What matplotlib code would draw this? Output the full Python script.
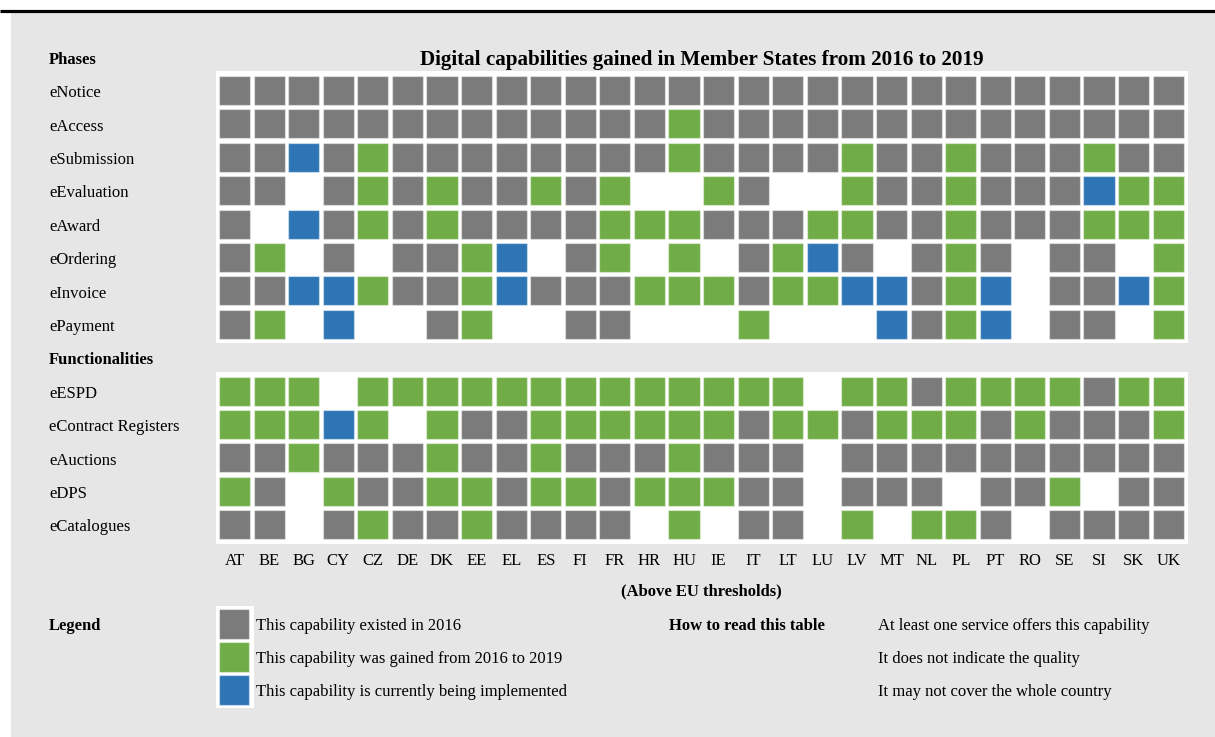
import matplotlib

matplotlib.use("Agg")
import matplotlib.pyplot as plt
from matplotlib.patches import Rectangle
from matplotlib.transforms import blended_transform_factory

countries = ["AT", "BE", "BG", "CY", "CZ", "DE", "DK", "EE", "EL", "ES", "FI", "FR", "HR", "HU",
             "IE", "IT", "LT", "LU", "LV", "MT", "NL", "PL", "PT", "RO", "SE", "SI", "SK", "UK"]

phases = ["eNotice", "eAccess", "eSubmission", "eEvaluation", "eAward", "eOrdering", "eInvoice", "ePayment"]
functionalities = ["eESPD", "eContract Registers", "eAuctions", "eDPS", "eCatalogues"]

# one character per country: G existed in 2016, N gained 2016-2019, B being implemented, . none
phase_status = [
    "GGGGGGGGGGGGGG" + "GGGGGGGGGGGGGG",  # eNotice
    "GGGGGGGGGGGGGN" + "GGGGGGGGGGGGGG",  # eAccess
    "GGBGNGGGGGGGGN" + "GGGGNGGNGGGNGG",  # eSubmission
    "GG.GNGNGGNGN.." + "NG..NGGNGGGBNN",  # eEvaluation
    "G.BGNGNGGGGNNN" + "GGGNNGGNGGGNNN",  # eAward
    "GN.G.GGNB.GN.N" + ".GNBG.GNG.GG.N",  # eOrdering
    "GGBBNGGNBGGGNN" + "NGNNBBGNB.GGBN",  # eInvoice
    "GN.B..GN..GG.." + ".N...BGNB.GG.N",  # ePayment
]
function_status = [
    "NNN.NNNNNNNNNN" + "NNN.NNGNNNNGNN",  # eESPD
    "NNNBN.NGGNNNNN" + "NGNNGNNNGNGGGN",  # eContract Registers
    "GGNGGGNGGNGGGN" + "GGG.GGGGGGGGGG",  # eAuctions
    "NG.NGGNNGNNGNN" + "NGG.GGG.GGN.GG",  # eDPS
    "GG.GNGGNGGGG.N" + ".GG.N.NNG.GGGG",  # eCatalogues
]

legend_codes = ["G", "N", "B"]
legend_labels = ["This capability existed in 2016",
                 "This capability was gained from 2016 to 2019",
                 "This capability is currently being implemented"]
read_notes = ["At least one service offers this capability",
              "It does not indicate the quality",
              "It may not cover the whole country"]

COLORS = {"G": "#7b7b7b", "N": "#70ad47", "B": "#2e75b6"}
PANEL = "#e6e6e6"


def main():
    plt.rcParams["font.family"] = ["Liberation Serif", "DejaVu Serif"]
    plt.rcParams["font.size"] = 12

    W, H = 1215, 737
    fig = plt.figure(figsize=(W / 100, H / 100), dpi=100)
    fig.patch.set_facecolor("white")

    # background canvas in pixel units
    bg = fig.add_axes([0, 0, 1, 1])
    bg.set_xlim(0, W)
    bg.set_ylim(H, 0)
    bg.axis("off")
    bg.add_patch(Rectangle((11, 13), W - 11, H - 13, fc=PANEL, ec="none"))
    bg.plot([0, W], [10.5, 10.5], color="black", lw=2.3, solid_capstyle="butt")

    # grid axes: columns = countries, rows = phases (0-7) and functionalities (9-13)
    ax = fig.add_axes([217.2 / W, 1 - 541.4 / H, 968.3 / W, (541.4 - 73.8) / H])
    ax.set_xlim(-0.5, len(countries) - 0.5)
    ax.set_ylim(13.5, -0.5)
    ax.patch.set_visible(False)
    for spine in ax.spines.values():
        spine.set_visible(False)
    ax.set_yticks([])
    ax.set_xticks(range(len(countries)), countries)
    ax.tick_params(axis="x", length=0, pad=8.5, labelsize=12)

    ncol = len(countries)
    phase_rows = list(range(len(phases)))
    func_rows = [len(phases) + 1 + i for i in range(len(functionalities))]

    for rows in (phase_rows, func_rows):
        top = rows[0] - 0.5 - 0.08
        bottom = rows[-1] + 0.5 + 0.07
        ax.add_patch(Rectangle((-0.54, top), ncol + 0.11, bottom - top,
                               fc="white", ec="none", clip_on=False, zorder=1))

    for rows, status in ((phase_rows, phase_status), (func_rows, function_status)):
        for r, line in zip(rows, status):
            for c, code in enumerate(line):
                if code not in COLORS:
                    continue
                ax.add_patch(Rectangle((c - 0.45, r - 0.435), 0.9, 0.87, fc=COLORS[code],
                                       ec=(1, 1, 1, 0.45), lw=0.9, clip_on=False, zorder=2))

    lab_tf = blended_transform_factory(fig.transFigure, ax.transData)
    x_lab = 49 / W
    dy = 0.08
    ax.text(x_lab, -1 + dy, "Phases", transform=lab_tf, va="center", fontweight="bold")
    for r, name in zip(phase_rows, phases):
        ax.text(x_lab, r + dy, name, transform=lab_tf, va="center")
    ax.text(x_lab, len(phases) + dy, "Functionalities", transform=lab_tf, va="center", fontweight="bold")
    for r, name in zip(func_rows, functionalities):
        ax.text(x_lab, r + dy, name, transform=lab_tf, va="center")

    mid = (ncol - 1) / 2
    ax.text(mid, -1 + dy, "Digital capabilities gained in Member States from 2016 to 2019",
            ha="center", va="center", fontsize=15.2, fontweight="bold")
    ax.text(mid, 15.0, "(Above EU thresholds)", ha="center", va="center", fontweight="bold")

    # legend block (pixel units)
    bg.text(49, 626, "Legend", va="center", fontweight="bold")
    bg.add_patch(Rectangle((216, 606), 38, 102, fc="white", ec="none"))
    for i, (code, label) in enumerate(zip(legend_codes, legend_labels)):
        yc = 624 + i * 33
        bg.add_patch(Rectangle((219, yc - 15), 30, 30, fc=COLORS[code], ec=(1, 1, 1, 0.45), lw=0.9))
        bg.text(256, yc + 2, label, va="center")
    bg.text(669, 626, "How to read this table", va="center", fontweight="bold")
    for i, note in enumerate(read_notes):
        bg.text(878, 626 + i * 33, note, va="center")

    fig.savefig("out.png", dpi=100)
    plt.close(fig)


if __name__ == "__main__":
    main()
